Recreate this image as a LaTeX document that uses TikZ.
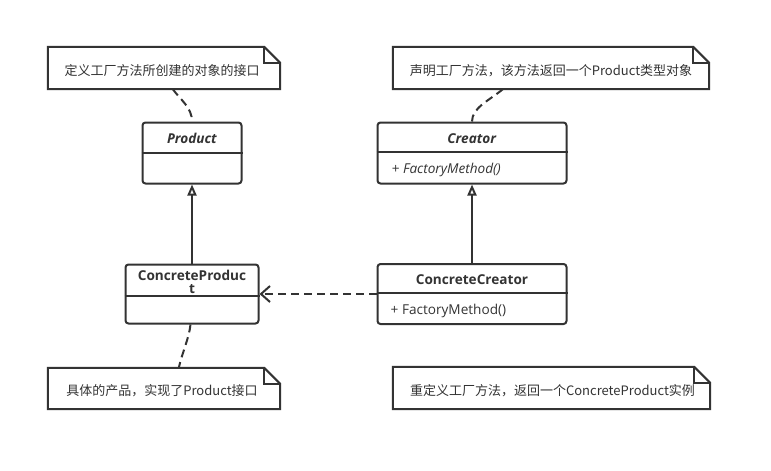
\documentclass[tikz,border=0pt]{standalone}
\usepackage{fontspec}
\setmainfont{Open Sans}
\newfontfamily\cjk{Noto Sans CJK SC}
\usetikzlibrary{arrows.meta,calc}
\definecolor{ink}{HTML}{333333}
\begin{document}
\begin{tikzpicture}[x=1pt,y=-1pt,
  classbox/.style={draw=ink, line width=2pt, rounded corners=3pt, inner sep=0pt, fill=white},
  notebox/.style={draw=none, inner sep=0pt},
  notetext/.style={text=ink, inner sep=0pt, font=\cjk\fontsize{13}{15}\selectfont},
  ctitle/.style={text=ink, inner sep=0pt, font=\fontsize{13.6}{14}\selectfont\bfseries, align=center},
  cmethod/.style={text=ink, inner sep=0pt, anchor=west, font=\fontsize{13.6}{14}\selectfont},
  noteline/.style={draw=ink, line width=2pt, dash pattern=on 8pt off 5pt},
  rel/.style={draw=ink, line width=2pt}
]
\useasboundingbox (0,0) rectangle (771,471);
\fill[white] (0,0) rectangle (771,471);

% class boxes
\node[classbox, minimum width=99pt, minimum height=61pt] (product) at (192,153) {};
\node[classbox, minimum width=189pt, minimum height=61pt] (creator) at (472,153) {};
\node[classbox, minimum width=133pt, minimum height=59pt] (cproduct) at (192,294) {};
\node[classbox, minimum width=189pt, minimum height=60pt] (ccreator) at (472,294) {};

% dividers
\draw[rel] ($(product.north west)+(0,31)$) -- ($(product.north east)+(0,31)$);
\draw[rel] ($(creator.north west)+(0,30)$) -- ($(creator.north east)+(0,30)$);
\draw[rel] ($(cproduct.north west)+(0,32)$) -- ($(cproduct.north east)+(0,32)$);
\draw[rel] ($(ccreator.north west)+(0,30)$) -- ($(ccreator.north east)+(0,30)$);

% class texts
\node[ctitle] (ptitle) at ($(product.north)+(0,17)$) {\textit{Product}};
\node[ctitle] (crtitle) at ($(creator.north)+(0,17)$) {\textit{Creator}};
\node[cmethod] (crmeth) at ($(creator.north west)+(15,48.5)$) {\textit{+ FactoryMethod()}};
\node[ctitle] (cptitle) at ($(cproduct.north)+(0,18)$) {ConcreteProduc\\[-1pt]t};
\node[ctitle] (cctitle) at ($(ccreator.north)+(0,16.5)$) {ConcreteCreator};
\node[cmethod] (ccmeth) at ($(ccreator.north west)+(14,48)$) {+ FactoryMethod()};

% notes
\node[notebox, minimum width=232pt, minimum height=42pt] (n1) at (164,68) {};
\node[notebox, minimum width=316pt, minimum height=42pt] (n2) at (551,68) {};
\node[notebox, minimum width=232pt, minimum height=41pt] (n3) at (164,388.5) {};
\node[notebox, minimum width=317pt, minimum height=42pt] (n4) at (551.5,388) {};
\foreach \n in {n1,n2,n3,n4}{
  \draw[rel, fill=white] (\n.south west) -- (\n.north west) -- ($(\n.north east)+(-16,0)$)
     -- ($(\n.north east)+(0,16)$) -- (\n.south east) -- cycle;
  \draw[rel, line join=miter] ($(\n.north east)+(-16,0)$) -- ($(\n.north east)+(-16,16)$) -- ($(\n.north east)+(0,16)$);
}
\node[notetext] (t1) at ($(n1.center)+(-2,2.5)$) {定义工厂方法所创建的对象的接口};
\node[notetext] (t2) at ($(n2.center)+(0,2.5)$) {声明工厂方法，该方法返回一个Product类型对象};
\node[notetext] (t3) at ($(n3.center)+(-2,2)$) {具体的产品，实现了Product接口};
\node[notetext] (t4) at ($(n4.center)+(1,2.5)$) {重定义工厂方法，返回一个ConcreteProduct实例};

% note connectors
\draw[noteline] ($(n1.south west)+(125,0)$) .. controls ($(n1.south west)+(133,11)$) and ($(product.north)+(0,-14)$) .. (product.north);
\draw[noteline] ($(n2.south west)+(110,0)$) .. controls ($(n2.south west)+(97,11)$) and ($(creator.north)+(0,-14)$) .. (creator.north);
\draw[noteline] ($(cproduct.south)+(-1.5,0)$) .. controls ($(cproduct.south)+(-3,14)$) and ($(n3.north west)+(134,-14)$) .. ($(n3.north west)+(131,0)$);

% relations
\draw[rel, -{Triangle[open, length=11pt, width=9pt, line width=2pt]}] (cproduct.north) -- (product.south);
\draw[rel, -{Triangle[open, length=11pt, width=9pt, line width=2pt]}] (ccreator.north) -- (creator.south);
\draw[rel, dash pattern=on 8pt off 5pt, -{Straight Barb[length=9pt, width=16pt, line width=2pt]}]
  (ccreator.north west |- 0,294) -- (cproduct.north east |- 0,294);
\end{tikzpicture}
\end{document}
